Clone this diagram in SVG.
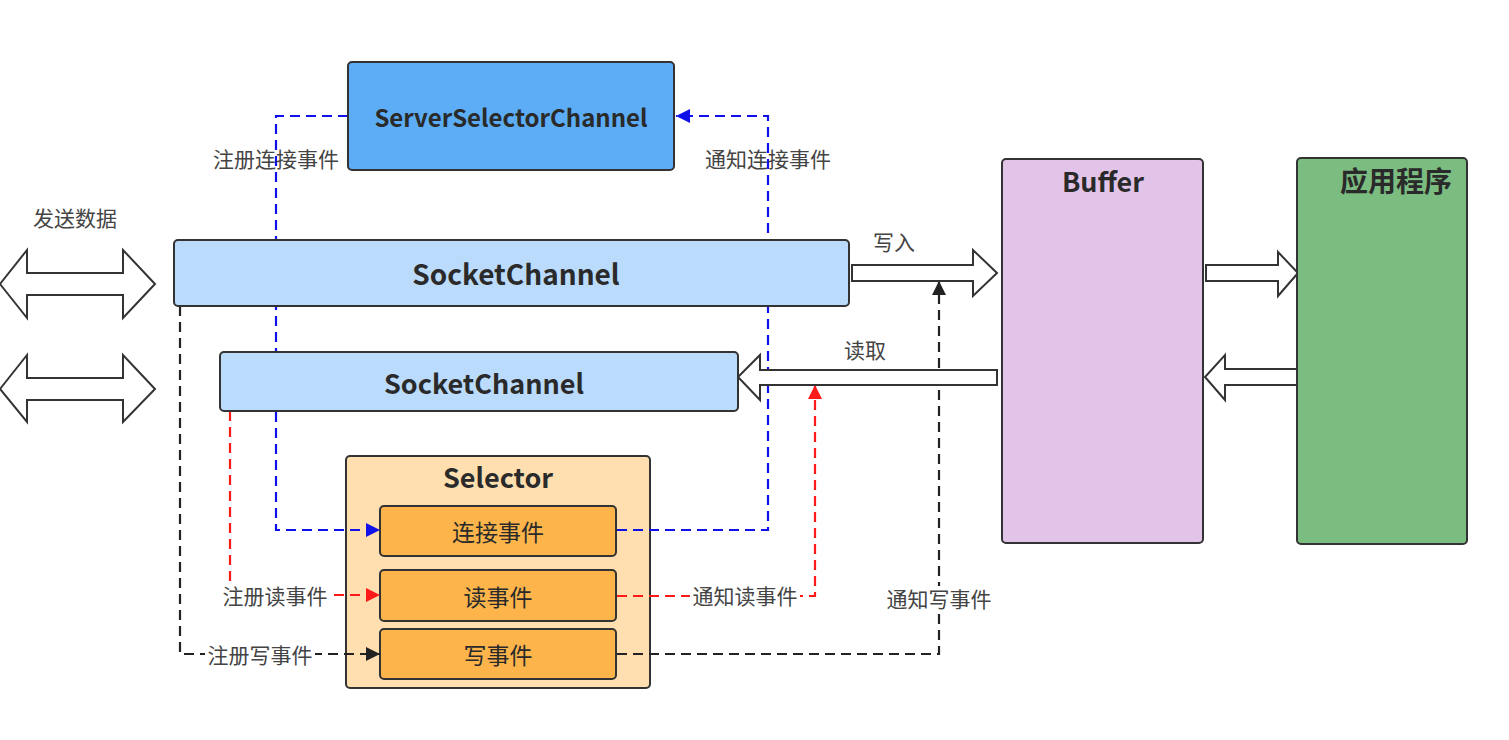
<svg xmlns="http://www.w3.org/2000/svg" width="1509" height="740" viewBox="0 0 1509 740">
<defs>
<style>
.box{stroke:#333;stroke-width:2}
.t{font-family:"Noto Sans CJK SC","Noto Sans",sans-serif;fill:#2a2a2a;text-anchor:middle;dominant-baseline:central}
.b{font-weight:bold}
.lbl{font-family:"Noto Sans CJK SC","Noto Sans",sans-serif;fill:#444;font-size:21px;text-anchor:middle;dominant-baseline:central}
.dash{fill:none;stroke-width:2.2;stroke-dasharray:10 6}
.blk{fill:#fff;stroke:#333;stroke-width:2;stroke-linejoin:miter}
</style>
<marker id="ab" markerUnits="userSpaceOnUse" markerWidth="16" markerHeight="14" refX="14" refY="7" orient="auto"><path d="M0,0 L14,7 L0,14 Z" fill="#1010E8"/></marker>
<marker id="ar" markerUnits="userSpaceOnUse" markerWidth="16" markerHeight="14" refX="14" refY="7" orient="auto"><path d="M0,0 L14,7 L0,14 Z" fill="#FF1A1A"/></marker>
<marker id="ak" markerUnits="userSpaceOnUse" markerWidth="16" markerHeight="14" refX="14" refY="7" orient="auto"><path d="M0,0 L14,7 L0,14 Z" fill="#222"/></marker>
</defs>
<rect width="1509" height="740" fill="#fff"/>

<g id="selector">
<rect class="box" x="346" y="456" width="304" height="232" rx="4" fill="#FFDFB0"/>
<text class="t b" x="498" y="476" font-size="27">Selector</text>
</g>
<g id="conn-event">
<rect class="box" x="380" y="506" width="236" height="50" rx="4" fill="#FDB54B"/>
<text class="t" x="498" y="531" font-size="23">连接事件</text>
</g>
<g id="read-event">
<rect class="box" x="380" y="570" width="236" height="51" rx="4" fill="#FDB54B"/>
<text class="t" x="498" y="596" font-size="23">读事件</text>
</g>
<g id="write-event">
<rect class="box" x="380" y="629" width="236" height="50" rx="4" fill="#FDB54B"/>
<text class="t" x="498" y="654" font-size="23">写事件</text>
</g>

<g id="connectors">
<path class="dash" stroke="#1010E8" d="M348,116 H276 V530 H380" marker-end="url(#ab)"/>
<path class="dash" stroke="#1010E8" d="M617,530 H768 V116 H676" marker-end="url(#ab)"/>
<path class="dash" stroke="#FF1A1A" d="M230,411 V595 H380" marker-end="url(#ar)"/>
<path class="dash" stroke="#FF1A1A" d="M617,596 H815 V385" marker-end="url(#ar)"/>
<path class="dash" stroke="#222" d="M180,306 V654 H380" marker-end="url(#ak)"/>
<path class="dash" stroke="#222" d="M617,654 H939 V281" marker-end="url(#ak)"/>
</g>

<g id="block-arrows">
<polygon class="blk" points="0,284 27,250 27,273 123,273 123,250 155,284 123,318 123,295 27,295 27,318"/>
<polygon class="blk" points="0,389 27,355 27,378 123,378 123,355 155,389 123,422 123,400 27,400 27,422"/>
<polygon class="blk" points="852,265 973,265 973,250 997,273 973,296 973,281 852,281"/>
<polygon class="blk" points="997,370 760,370 760,355 738,377 760,400 760,385 997,385"/>
<polygon class="blk" points="1206,265 1278,265 1278,252 1298,273 1278,296 1278,281 1206,281"/>
<polygon class="blk" points="1297,369 1225,369 1225,355 1205,377 1225,400 1225,385 1297,385"/>
</g>

<g id="ssc">
<rect class="box" x="348" y="62" width="326" height="108" rx="4" fill="#5CADF6"/>
<text class="t b" x="511" y="116" font-size="24">ServerSelectorChannel</text>
</g>
<g id="sc1">
<rect class="box" x="174" y="240" width="675" height="66" rx="4" fill="#BADBFB"/>
<text class="t b" x="516" y="273" font-size="28">SocketChannel</text>
</g>
<g id="sc2">
<rect class="box" x="220" y="352" width="518" height="59" rx="4" fill="#BADBFB"/>
<text class="t b" x="484" y="382" font-size="27">SocketChannel</text>
</g>
<g id="buffer">
<rect class="box" x="1002" y="159" width="201" height="384" rx="4" fill="#E2C4E8"/>
<text class="t b" x="1103" y="180" font-size="27">Buffer</text>
</g>
<g id="app">
<rect class="box" x="1297" y="158" width="170" height="386" rx="4" fill="#7BBC81"/>
<text class="t b" x="1396" y="180" font-size="28">应用程序</text>
</g>

<g id="labels">
<text class="lbl" x="75" y="217" font-size="23">发送数据</text>
<text class="lbl" x="276" y="158">注册连接事件</text>
<text class="lbl" x="768" y="158">通知连接事件</text>
<text class="lbl" x="894" y="241" font-size="22">写入</text>
<text class="lbl" x="865" y="349" font-size="22">读取</text>
<rect x="220" y="583" width="110" height="24" fill="#fff"/>
<text class="lbl" x="275" y="595">注册读事件</text>
<rect x="690" y="584" width="110" height="24" fill="#fff"/>
<text class="lbl" x="745" y="595">通知读事件</text>
<rect x="205" y="642" width="110" height="24" fill="#fff"/>
<text class="lbl" x="260" y="654">注册写事件</text>
<rect x="884" y="586" width="110" height="24" fill="#fff"/>
<text class="lbl" x="939" y="598">通知写事件</text>
</g>
</svg>
